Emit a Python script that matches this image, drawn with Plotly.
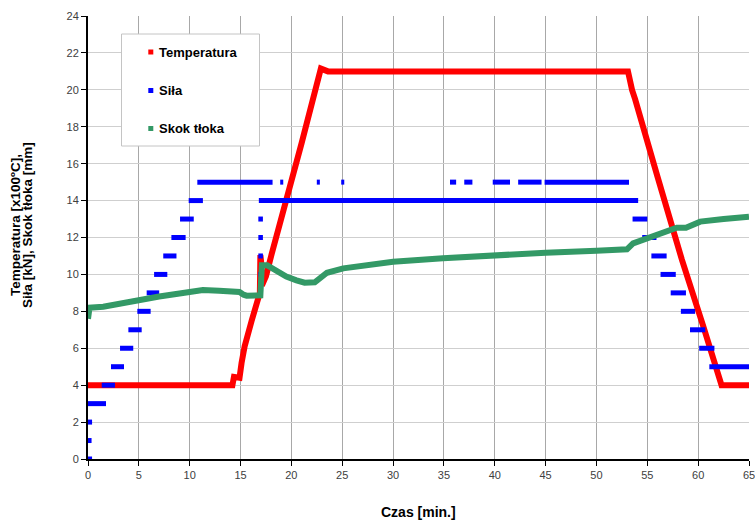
import plotly.graph_objects as go

# ---- Data ----
temp_t = [0, 14.2, 14.35, 14.9, 15.1, 15.4, 16.1, 16.9, 16.95, 17.02, 17.1, 17.5, 18.06, 19.0, 21.0, 22.9, 23.2, 23.6,
          30, 40, 50, 53.1, 53.5, 53.8, 56.0, 58.4, 60.5, 62.3, 65]
temp_v = [4.0, 4.0, 4.45, 4.4, 5.2, 6.1, 7.5, 9.0, 11.05, 10.7, 9.4, 9.9, 11.1, 12.95, 17.1, 21.15, 21.05, 21.0,
          21.0, 21.0, 21.0, 21.0, 20.0, 19.5, 15.3, 10.8, 7.2, 4.0, 4.0]

skok_t = [0, 0.05, 0.15, 1.5, 3, 5, 7, 9, 10, 11.3, 12.9, 14.5, 14.9, 15.3, 15.6, 16.95, 17.0, 17.1, 17.6,
          18.5, 19.5, 20.5, 21.3, 22.3, 22.8, 23.5, 25.1, 27.5, 30, 34.9, 39.9, 45, 50, 53.0, 53.6,
          55.9, 57.9, 58.8, 60.2, 62.5, 65]
skok_v = [7.6, 8.15, 8.2, 8.25, 8.42, 8.6, 8.8, 8.97, 9.03, 9.15, 9.12, 9.1, 9.05, 8.9, 8.85, 8.87, 10.3, 10.5, 10.5,
          10.2, 9.88, 9.68, 9.55, 9.57, 9.79, 10.09, 10.33, 10.52, 10.69, 10.87, 11.05, 11.18, 11.28, 11.36, 11.68,
          12.13, 12.53, 12.53, 12.86, 13.0, 13.13]

# Siła: horizontal runs of readings (start time, end time, value)
sila_start = [0.0, 0.0, 0.0, 0.0, 1.35, 2.26, 3.15, 3.97, 4.85, 5.77, 6.5, 7.4, 8.2, 9.05, 9.9, 10.75,
              18.9, 22.5, 24.9, 35.6, 37.0, 39.8, 42.3, 44.9,
              16.8, 16.75, 16.75, 16.75, 16.75,
              53.55, 54.5, 55.4, 56.3, 57.3, 58.3, 59.2, 60.1, 61.1]
sila_end = [0.4, 0.35, 0.4, 1.77, 2.65, 3.54, 4.45, 5.28, 6.16, 7.0, 7.8, 8.7, 9.6, 10.4, 11.3, 18.15,
            19.2, 22.8, 25.2, 36.2, 37.8, 41.5, 44.6, 53.2,
            54.1, 17.2, 17.2, 17.2, 17.2,
            55.0, 55.9, 56.9, 57.8, 58.8, 59.7, 60.7, 61.6, 65.0]
sila_val = [0, 1, 2, 3, 4, 5, 6, 7, 8, 9, 10, 11, 12, 13, 14, 15,
            15, 15, 15, 15, 15, 15, 15, 15,
            14, 13, 12, 11, 10,
            13, 12, 11, 10, 9, 8, 7, 6, 5]

series_names = ["Temperatura", "Siła", "Skok tłoka"]
colors = ["#ff0000", "#0000ff", "#339966"]

x_ticks = list(range(0, 66, 5))
y_ticks = list(range(0, 25, 2))

y_title_lines = ["Temperatura [x100ºC],", "Siła [kN], Skok tłoka [mm]"]
x_title = "Czas [min.]"

# ---- geometry helpers (pixel -> paper) ----
W, H = 755, 520
ML, MR, MT, MB = 88, 6, 16, 61
PW, PH = W - ML - MR, H - MT - MB


def px(xp):
    return (xp - ML) / PW


def py(yp):
    return (H - MB - yp) / PH


# build Siła segments
sx, sy = [], []
for a, b, v in zip(sila_start, sila_end, sila_val):
    sx += [a, b, None]
    sy += [v, v, None]

fig = go.Figure()
fig.add_trace(go.Scatter(x=temp_t, y=temp_v, mode="lines", line=dict(color=colors[0], width=6),
                         name=series_names[0], showlegend=False, hoverinfo="skip"))
fig.add_trace(go.Scatter(x=sx, y=sy, mode="lines", line=dict(color=colors[1], width=5),
                         name=series_names[1], showlegend=False, hoverinfo="skip"))
fig.add_trace(go.Scatter(x=skok_t, y=skok_v, mode="lines", line=dict(color=colors[2], width=6),
                         name=series_names[2], showlegend=False, hoverinfo="skip"))

font_family = "Liberation Sans, Arial, sans-serif"
axis_common = dict(showline=True, linecolor="black", linewidth=2, ticks="outside", ticklen=5,
                   tickcolor="black", tickwidth=1, tickfont=dict(size=11, color="#404040", family=font_family),
                   showgrid=True, zeroline=False, ticklabeloverflow="allow", automargin=False)

# manual legend box (as in original: small square symbols, wide spacing)
shapes = [dict(type="rect", xref="paper", yref="paper", x0=px(121.5), x1=px(259.5), y0=py(34), y1=py(146),
               line=dict(color="#c4c4c4", width=1), fillcolor="white", layer="above")]
annotations = []
leg_y = [52, 90.5, 128.5]
for n, c, yy in zip(series_names, colors, leg_y):
    shapes.append(dict(type="rect", xref="paper", yref="paper", x0=px(148.3), x1=px(153.3),
                       y0=py(yy - 2.5), y1=py(yy + 2.5), line=dict(width=0), fillcolor=c, layer="above"))
    annotations.append(dict(text="<b>%s</b>" % n, xref="paper", yref="paper", x=px(156.5), y=py(yy),
                            xanchor="left", yanchor="middle", showarrow=False,
                            font=dict(size=13, color="black", family=font_family)))

# axis titles
for line, xc in zip(y_title_lines, [15, 27]):
    annotations.append(dict(text="<b>%s</b>" % line, textangle=-90, xref="paper", yref="paper",
                            x=px(xc), y=py(225), xanchor="center", yanchor="middle", showarrow=False,
                            font=dict(size=13.5, color="black", family=font_family)))
annotations.append(dict(text="<b>%s</b>" % x_title, xref="paper", yref="paper", x=px(418.5), y=py(512),
                        xanchor="center", yanchor="middle", showarrow=False,
                        font=dict(size=14, color="black", family=font_family)))

fig.update_layout(
    width=W, height=H,
    margin=dict(l=ML, r=MR, t=MT, b=MB, autoexpand=False),
    paper_bgcolor="white", plot_bgcolor="white",
    font=dict(family=font_family, color="black"),
    showlegend=False,
    xaxis=dict(range=[0, 65], tickvals=x_ticks, gridcolor="#a8a8a8", **axis_common),
    yaxis=dict(range=[0, 24], tickvals=y_ticks, gridcolor="#cfcfcf", **axis_common),
    shapes=shapes,
    annotations=annotations,
)
fig.write_html("out.html")
